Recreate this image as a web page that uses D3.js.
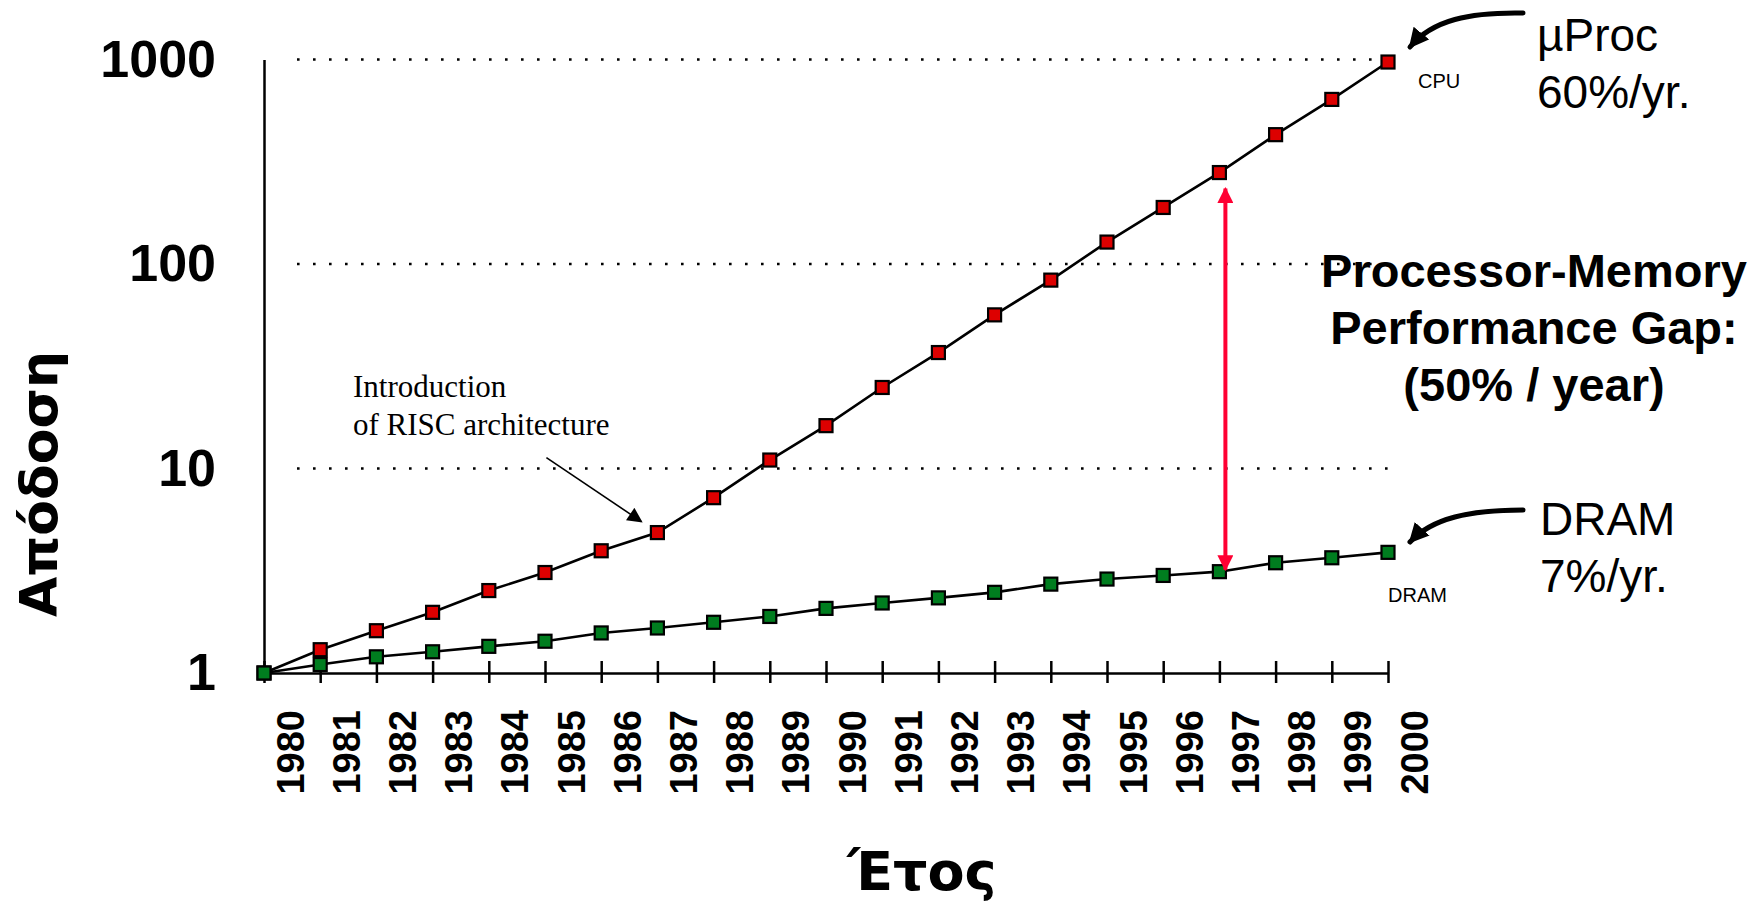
<!DOCTYPE html>
<html><head><meta charset="utf-8">
<script src="https://cdn.jsdelivr.net/npm/d3@7"></script>
<style>html,body{margin:0;padding:0;background:#fff;} svg{display:block;}</style>
</head><body>
<svg id="chart" width="1762" height="905"></svg>
<script>
// ---- data ----
const years = [1980,1981,1982,1983,1984,1985,1986,1987,1988,1989,1990,1991,1992,1993,1994,1995,1996,1997,1998,1999,2000];
const cpuPerf = [1, 1.30, 1.61, 1.98, 2.53, 3.10, 3.96, 4.86, 7.2, 11.0, 16.2, 24.9, 36.9, 56.4, 83.4, 128, 189, 280, 429, 638, 972];
const dramPerf = [1, 1.10, 1.20, 1.27, 1.35, 1.43, 1.57, 1.66, 1.77, 1.89, 2.07, 2.20, 2.33, 2.48, 2.72, 2.88, 3.00, 3.13, 3.46, 3.66, 3.89];
const yTicks = [1, 10, 100, 1000];
const yTickLabels = ["1", "10", "100", "1000"];
const gridValues = [10, 100, 1000];
const yTitle = "Απόδοση";
const xTitle = "Έτος";
const gapYear = 1997;
const riscYear = 1987;

const SANS = "'Liberation Sans', Arial, sans-serif";
const GREEK = "'DejaVu Sans', Verdana, sans-serif";
const SERIF = "'Liberation Serif', 'Times New Roman', serif";

const svg = d3.select("#chart");
const x = d3.scaleLinear().domain([1980, 2000]).range([264, 1388]);
const y = d3.scaleLog().domain([1, 1000]).range([673, 59.5]);

// defs: arrowheads
const defs = svg.append("defs");
function arrowMarker(id, color, w, h) {
  defs.append("marker").attr("id", id)
    .attr("viewBox", "0 0 10 10").attr("refX", 9).attr("refY", 5)
    .attr("markerUnits", "userSpaceOnUse")
    .attr("markerWidth", w).attr("markerHeight", h)
    .attr("orient", "auto-start-reverse")
    .append("path").attr("d", "M0,0 L10,5 L0,10 Z").attr("fill", color);
}
arrowMarker("ahBig", "#000", 20, 20);
arrowMarker("ahThin", "#000", 22, 15);
arrowMarker("ahRed", "#ff0033", 16, 16);

// gridlines (dotted)
svg.append("g").selectAll("line").data(gridValues).join("line")
  .attr("x1", 297).attr("x2", 1390)
  .attr("y1", d => y(d)).attr("y2", d => y(d))
  .attr("stroke", "#000").attr("stroke-width", 2.6)
  .attr("stroke-dasharray", "2.6,13.4");

// y axis
const yAxis = svg.append("g").attr("transform", "translate(264,0)")
  .call(d3.axisLeft(y).tickValues(yTicks).tickFormat((d, i) => yTickLabels[i]).tickSize(0).tickSizeOuter(0).tickPadding(48));
yAxis.select(".domain").attr("stroke", "#000").attr("stroke-width", 2.5);
yAxis.selectAll("text").attr("font-family", SANS).attr("font-weight", "bold").attr("font-size", 52).attr("fill", "#000");

// x axis
const xAxis = svg.append("g").attr("transform", "translate(0,673)")
  .call(d3.axisBottom(x).tickValues(years).tickFormat("").tickSizeOuter(0));
xAxis.select(".domain").attr("stroke", "#000").attr("stroke-width", 2.5);
xAxis.selectAll(".tick line").attr("y1", -12).attr("y2", 10).attr("stroke", "#000").attr("stroke-width", 2.5);

// x tick labels (rotated)
svg.append("g").selectAll("text").data(years).join("text")
  .attr("transform", d => `translate(${x(d) + 26},710) rotate(-90)`)
  .attr("text-anchor", "end").attr("dy", "0.36em")
  .attr("font-family", SANS).attr("font-weight", "bold").attr("font-size", 38)
  .text(d => d);

// series lines
const line = d3.line().x((d, i) => x(years[i])).y(d => y(d));
svg.append("path").datum(cpuPerf).attr("d", line).attr("fill", "none").attr("stroke", "#000").attr("stroke-width", 2.6);
svg.append("path").datum(dramPerf).attr("d", line).attr("fill", "none").attr("stroke", "#000").attr("stroke-width", 2.6);

// markers
function markers(vals, fill) {
  svg.append("g").selectAll("rect").data(vals).join("rect")
    .attr("x", (d, i) => x(years[i]) - 6.5).attr("y", d => y(d) - 6.5)
    .attr("width", 13).attr("height", 13)
    .attr("fill", fill).attr("stroke", "#000").attr("stroke-width", 2.2);
}
markers(cpuPerf, "#dd0000");
markers(dramPerf, "#007d1f");

// gap arrow (red, double-headed)
const gi = years.indexOf(gapYear);
svg.append("line")
  .attr("x1", x(gapYear) + 6).attr("x2", x(gapYear) + 6)
  .attr("y1", y(cpuPerf[gi]) + 16).attr("y2", y(dramPerf[gi]) - 2)
  .attr("stroke", "#ff0033").attr("stroke-width", 4)
  .attr("marker-start", "url(#ahRed)").attr("marker-end", "url(#ahRed)");

// RISC annotation
const ri = years.indexOf(riscYear);
svg.append("line")
  .attr("x1", x(riscYear) - 111).attr("y1", y(cpuPerf[ri]) - 75)
  .attr("x2", x(riscYear) - 16).attr("y2", y(cpuPerf[ri]) - 11)
  .attr("stroke", "#000").attr("stroke-width", 1.6)
  .attr("marker-end", "url(#ahThin)");
const risc = svg.append("text").attr("font-family", SERIF).attr("font-size", 31).attr("fill", "#000");
risc.append("tspan").attr("x", 353).attr("y", 397).text("Introduction");
risc.append("tspan").attr("x", 353).attr("y", 435).text("of RISC architecture");

// curved arrows to series ends
svg.append("path").attr("d", "M1523,13 C1470,12 1432,20 1410,47")
  .attr("fill", "none").attr("stroke", "#000").attr("stroke-width", 5).attr("stroke-linecap", "round")
  .attr("marker-end", "url(#ahBig)");
svg.append("path").attr("d", "M1523,510 C1470,510 1432,518 1410,542")
  .attr("fill", "none").attr("stroke", "#000").attr("stroke-width", 5).attr("stroke-linecap", "round")
  .attr("marker-end", "url(#ahBig)");

// small labels
svg.append("text").attr("x", 1418).attr("y", 88).attr("font-family", SANS).attr("font-size", 20).text("CPU");
svg.append("text").attr("x", 1388).attr("y", 602).attr("font-family", SANS).attr("font-size", 20).text("DRAM");

// big labels
function bigLabel(lines, xPos, yPos, dy) {
  const t = svg.append("text").attr("font-family", SANS).attr("font-size", 46).attr("fill", "#000");
  lines.forEach((s, i) => t.append("tspan").attr("x", xPos).attr("y", yPos + i * dy).text(s));
}
bigLabel(["µProc", "60%/yr."], 1537, 51, 57);
bigLabel(["DRAM", "7%/yr."], 1540, 535, 57);

// gap text
const gap = svg.append("text").attr("font-family", SANS).attr("font-size", 47).attr("font-weight", "bold")
  .attr("text-anchor", "middle").attr("fill", "#000");
["Processor-Memory", "Performance Gap:", "(50% / year)"].forEach((s, i) =>
  gap.append("tspan").attr("x", 1534).attr("y", 287 + i * 57).text(s));

// axis titles
svg.append("text").attr("transform", "translate(57,484) rotate(-90)")
  .attr("text-anchor", "middle").attr("font-family", GREEK).attr("font-weight", "bold").attr("font-size", 52)
  .text(yTitle);
svg.append("text").attr("x", 922).attr("y", 890)
  .attr("text-anchor", "middle").attr("font-family", GREEK).attr("font-weight", "bold").attr("font-size", 54)
  .text(xTitle);
</script>
</body></html>
